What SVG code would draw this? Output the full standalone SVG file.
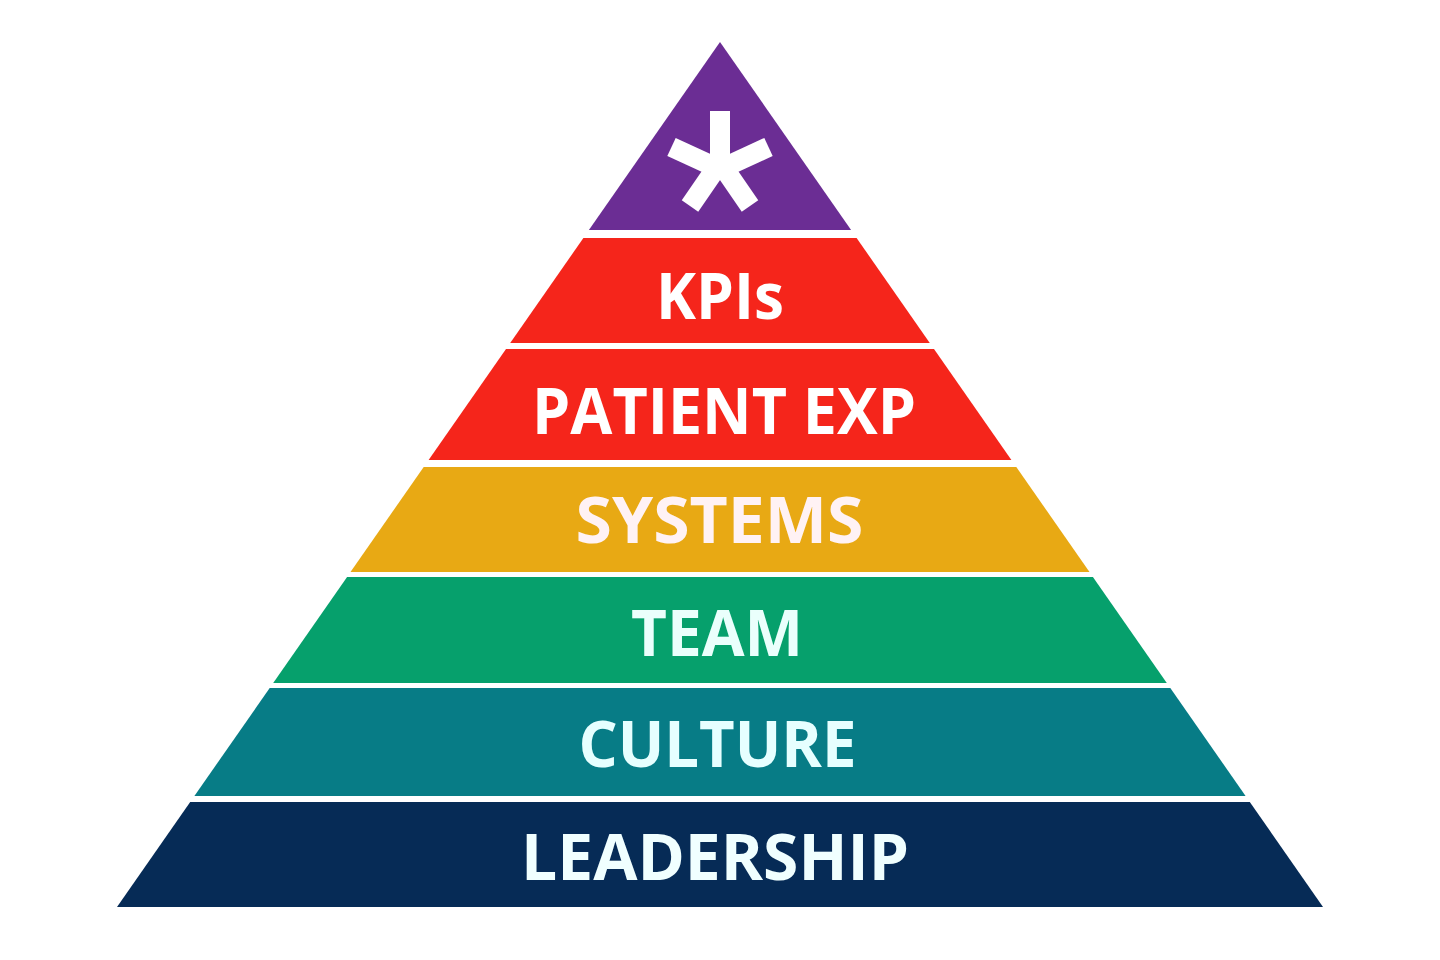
<svg xmlns="http://www.w3.org/2000/svg" width="1440" height="960" viewBox="0 0 1440 960">
<style>
.lbl{font-family:"Open Sans","Liberation Sans",sans-serif;font-weight:700;font-size:64px;text-anchor:middle}
</style>
<rect width="1440" height="960" fill="#ffffff"/>
<g id="apex">
<polygon points="720,42 851.1,230 588.9,230" fill="#6B2D94"/>
<g stroke="#ffffff" stroke-width="20" stroke-linecap="butt">
<line x1="720" y1="170" x2="720" y2="111"/>
<line x1="715" y1="167" x2="671.5" y2="147"/>
<line x1="725" y1="167" x2="768.5" y2="147"/>
<line x1="723" y1="158" x2="690" y2="206"/>
<line x1="717" y1="158" x2="750" y2="206"/>
</g>
</g>
<g id="kpis">
<polygon points="583.4,238 856.6,238 929.8,343 510.2,343" fill="#F5251B"/>
<text class="lbl" x="720" y="319" fill="#ffffff" textLength="128" lengthAdjust="spacingAndGlyphs">KPIs</text>
</g>
<g id="patient">
<polygon points="506,349 934,349 1011.4,460 428.6,460" fill="#F5251B"/>
<text class="lbl" x="724" y="434" fill="#ffffff" textLength="384" lengthAdjust="spacingAndGlyphs">PATIENT EXP</text>
</g>
<g id="systems">
<polygon points="423.7,467 1016.3,467 1089.5,572 350.5,572" fill="#E8A914"/>
<text class="lbl" x="719.5" y="543" fill="#FFF2F4" textLength="288" lengthAdjust="spacingAndGlyphs">SYSTEMS</text>
</g>
<g id="team">
<polygon points="347.1,577 1092.9,577 1166.8,683 273.2,683" fill="#06A06C"/>
<text class="lbl" x="717" y="656" fill="#EAFFFC" textLength="172" lengthAdjust="spacingAndGlyphs">TEAM</text>
</g>
<g id="culture">
<polygon points="269.7,688 1170.3,688 1245.6,796 194.4,796" fill="#077C86"/>
<text class="lbl" x="717.5" y="767" fill="#E6FFFF" textLength="278" lengthAdjust="spacingAndGlyphs">CULTURE</text>
</g>
<g id="leadership">
<polygon points="190.2,802 1249.8,802 1323,907 117,907" fill="#062B56"/>
<text class="lbl" x="715" y="880" fill="#F0FFFF" textLength="388" lengthAdjust="spacingAndGlyphs">LEADERSHIP</text>
</g>
<g id="connectors"/>
</svg>
